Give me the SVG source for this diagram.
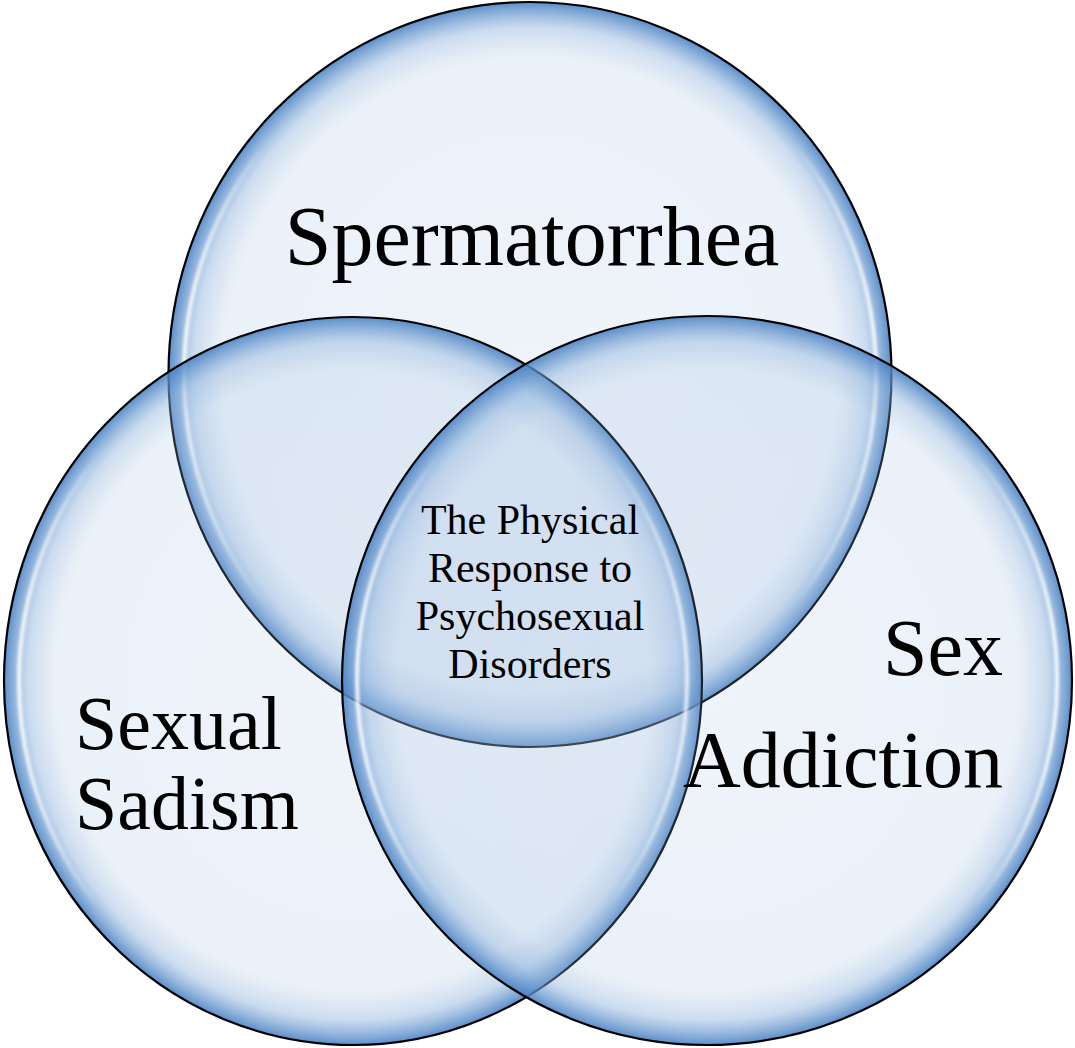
<svg xmlns="http://www.w3.org/2000/svg" width="1075" height="1048" viewBox="0 0 1075 1048">
  <style>
    .circle { stroke: #000000; stroke-width: 2.2; }
    .rim { fill: none; stroke-width: 4; }
    .lbl { font-family: "Liberation Serif", "Times New Roman", serif; fill: #000; }
    .small { font-size: 42px; text-anchor: middle; }
  </style>
  <defs>
    <radialGradient id="fillGrad" cx="0.5" cy="0.5" r="0.5">
      <stop offset="0" stop-color="#a5c1e2" stop-opacity="0.18"/>
      <stop offset="0.85" stop-color="#a5c1e2" stop-opacity="0.22"/>
      <stop offset="0.93" stop-color="#8db2dc" stop-opacity="0.45"/>
      <stop offset="1" stop-color="#4a82c4" stop-opacity="0.9"/>
    </radialGradient>
    <linearGradient id="rimGrad" x1="0" y1="0" x2="1" y2="0">
      <stop offset="0" stop-color="#ffffff" stop-opacity="0.9"/>
      <stop offset="0.12" stop-color="#ffffff" stop-opacity="0"/>
      <stop offset="0.88" stop-color="#ffffff" stop-opacity="0"/>
      <stop offset="1" stop-color="#ffffff" stop-opacity="0.9"/>
    </linearGradient>
    <filter id="soft" x="-5%" y="-5%" width="110%" height="110%">
      <feGaussianBlur stdDeviation="1.5"/>
    </filter>
  </defs>

  <g id="node-spermatorrhea">
    <ellipse class="circle" cx="530" cy="374.5" rx="361.5" ry="372.5" fill="url(#fillGrad)"/>
    <ellipse class="rim" cx="530" cy="374.5" rx="346" ry="357" stroke="url(#rimGrad)" filter="url(#soft)"/>
  </g>
  <g id="node-sexual-sadism">
    <ellipse class="circle" cx="353" cy="681" rx="349" ry="364" fill="url(#fillGrad)"/>
    <ellipse class="rim" cx="353" cy="681" rx="334" ry="349" stroke="url(#rimGrad)" filter="url(#soft)"/>
  </g>
  <g id="node-sex-addiction">
    <ellipse class="circle" cx="707" cy="680.5" rx="365" ry="364.5" fill="url(#fillGrad)"/>
    <ellipse class="rim" cx="707" cy="680.5" rx="350" ry="349.5" stroke="url(#rimGrad)" filter="url(#soft)"/>
  </g>

  <g id="connectors"></g>

  <g id="labels">
    <text class="lbl" x="532" y="265" text-anchor="middle" font-size="84">Spermatorrhea</text>
    <text class="lbl" x="75" y="749" font-size="76">Sexual</text>
    <text class="lbl" x="75" y="829" font-size="76">Sadism</text>
    <text class="lbl" x="1003" y="675" text-anchor="end" font-size="80">Sex</text>
    <text class="lbl" x="1003" y="787" text-anchor="end" font-size="80">Addiction</text>
    <text class="lbl small" x="530" y="534">The Physical</text>
    <text class="lbl small" x="530" y="582">Response to</text>
    <text class="lbl small" x="530" y="630">Psychosexual</text>
    <text class="lbl small" x="530" y="678">Disorders</text>
  </g>
</svg>
